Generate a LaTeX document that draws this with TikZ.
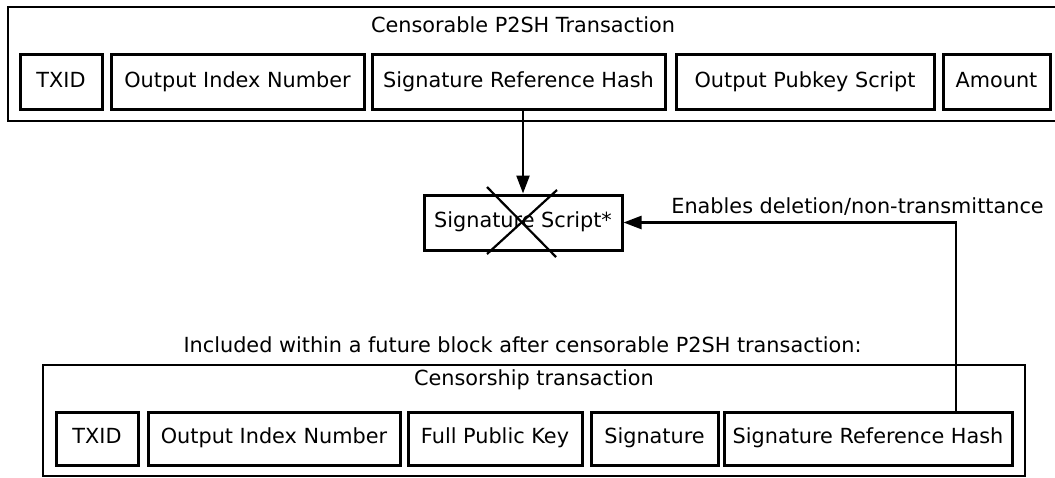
\documentclass[tikz,border=0pt]{standalone}
\usepackage{fontspec}
\setmainfont{DejaVu Sans}
\usepackage{tikz}
\usetikzlibrary{arrows.meta,positioning}

\begin{document}
\begin{tikzpicture}[x=0.5pt,y=-0.5pt,field/.style={draw,line width=1.5pt,inner sep=0pt,align=center,text height=7.6pt,text depth=2.4pt,font=\fontsize{10.4}{12.5}\selectfont},frame/.style={draw,line width=1.1pt},lbl/.style={inner sep=0pt,font=\fontsize{10.4}{12.5}\selectfont},arr/.style={-{Triangle[length=9pt,width=6.5pt]},line width=1.2pt}]
\useasboundingbox (0,0) rectangle (1055,477);

\draw[frame] (8,7) rectangle (1065,121);
\node[lbl] (ttitle) at(523,25) {Censorable P2SH Transaction};
\node[field,minimum width=41pt,minimum height=27.5pt] (ttxid) at(61,82) {TXID};
\node[field,minimum width=126.5pt,minimum height=27.5pt] (toin) at(237.5,82) {Output Index Number};
\node[field,minimum width=146.5pt,minimum height=27.5pt] (tsrh) at(518.5,82) {Signature Reference Hash};
\node[field,minimum width=129pt,minimum height=27.5pt] (tops) at(805,82) {Output Pubkey Script};
\node[field,minimum width=53.5pt,minimum height=27.5pt] (tamt) at(996.5,82) {Amount};

\node[field,minimum width=99pt,minimum height=27.5pt] (sig) at(523,222.5) {Signature Script*};
\draw[line width=1.1pt] (487,187) -- (556,257);
\draw[line width=1.1pt] (557,190) -- (487,254);

\node[lbl,anchor=base west] (enab) at(671,213) {Enables deletion/non-transmittance};
\node[lbl] (incl) at(522.5,345) {Included within a future block after censorable P2SH transaction:};

\draw[frame] (43,365) rectangle (1025,476);
\node[lbl] (btitle) at(534,380) {Censorship transaction};
\node[field,minimum width=41pt,minimum height=26.5pt] (btxid) at(97,438.5) {TXID};
\node[field,minimum width=126pt,minimum height=26.5pt] (boin) at(274,438.5) {Output Index Number};
\node[field,minimum width=87pt,minimum height=26.5pt] (bfpk) at(495,438.5) {Full Public Key};
\node[field,minimum width=63.5pt,minimum height=26.5pt] (bsig) at(654.5,438.5) {Signature};
\node[field,minimum width=144pt,minimum height=26.5pt] (bsrh) at(868,438.5) {Signature Reference Hash};

\coordinate (bend) at(956,222.5);
\draw[arr] (tsrh.south -| sig.north) -- (sig.north);
\draw[arr] (bsrh.north -| bend) |- (sig.east);
\end{tikzpicture}
\end{document}
